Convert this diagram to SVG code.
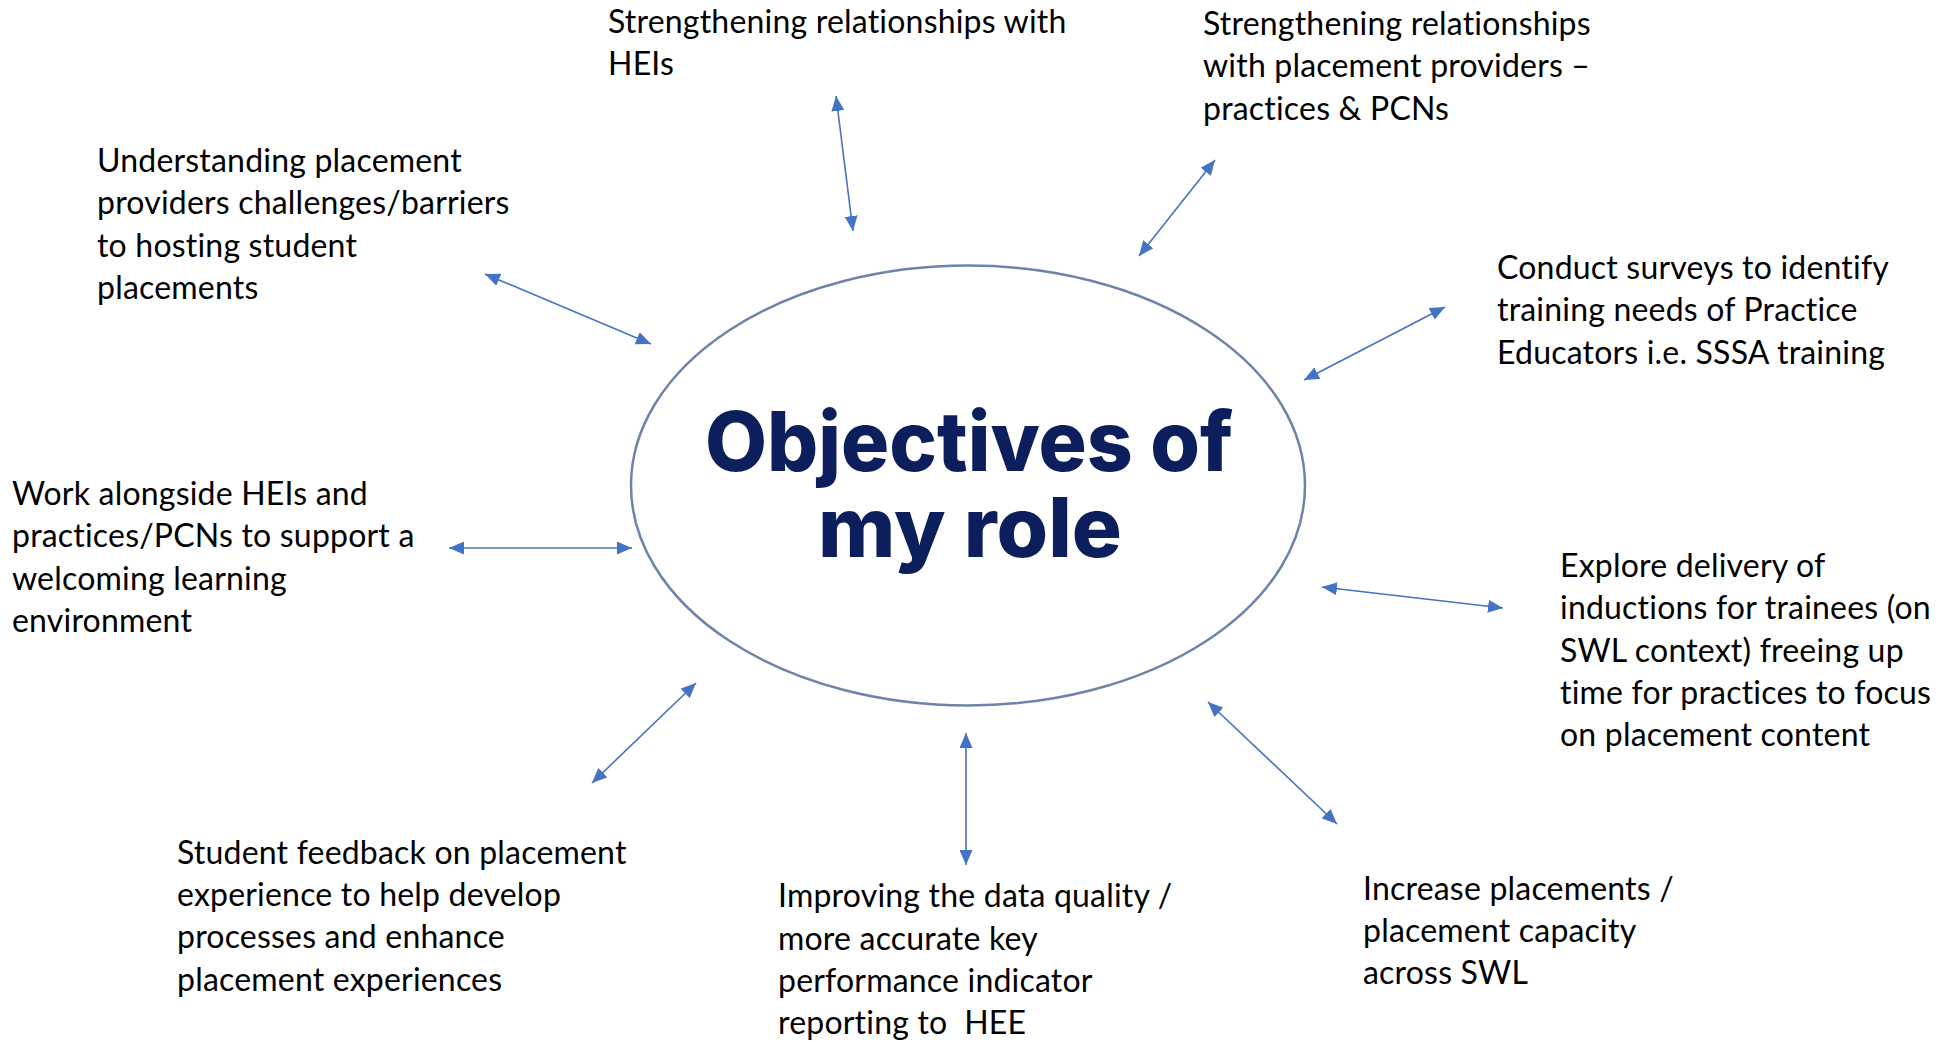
<svg xmlns="http://www.w3.org/2000/svg" width="1954" height="1042" viewBox="0 0 1954 1042">
<style>
.t{font-family:Lato,"Open Sans","Liberation Sans",sans-serif;font-size:32px;letter-spacing:0.2px;fill:#000}
.ttl{font-family:Inter,"Noto Sans","Liberation Sans",sans-serif;font-weight:800;font-size:83px;fill:#0c1f5c;text-anchor:middle}
.c{stroke:#4472c4;stroke-width:1.6;fill:none;marker-start:url(#ah);marker-end:url(#ah)}
</style>
<defs>
<marker id="ah" markerUnits="userSpaceOnUse" markerWidth="15" markerHeight="13" refX="15" refY="6.5" orient="auto-start-reverse">
<path d="M0,0 L15,6.5 L0,13 z" fill="#4472c4"/>
</marker>
</defs>
<rect width="1954" height="1042" fill="#fff"/>
<g id="center">
<ellipse cx="968" cy="485.5" rx="337" ry="220" fill="#fff" stroke="#6d83a8" stroke-width="2.5"/>
<text class="ttl" x="969" y="471" textLength="528" lengthAdjust="spacingAndGlyphs">Objectives of</text>
<text class="ttl" x="970" y="557" textLength="304" lengthAdjust="spacingAndGlyphs">my role</text>
</g>
<g id="connectors">
<line class="c" x1="836" y1="96" x2="853" y2="231"/>
<line class="c" x1="1215" y1="160" x2="1139" y2="256"/>
<line class="c" x1="485" y1="274" x2="651" y2="344"/>
<line class="c" x1="1445" y1="307" x2="1304" y2="380"/>
<line class="c" x1="449" y1="548" x2="632" y2="548"/>
<line class="c" x1="1322" y1="587" x2="1503" y2="608"/>
<line class="c" x1="696" y1="683" x2="592" y2="783"/>
<line class="c" x1="966" y1="733" x2="966" y2="865"/>
<line class="c" x1="1208" y1="702" x2="1337" y2="824"/>
</g>
<g id="n-heis">
<text class="t" x="608" y="33">Strengthening relationships with</text>
<text class="t" x="608" y="75">HEIs</text>
</g>
<g id="n-providers">
<text class="t" x="1203" y="35">Strengthening relationships</text>
<text class="t" x="1203" y="77">with placement providers –</text>
<text class="t" x="1203" y="120">practices &amp; PCNs</text>
</g>
<g id="n-understanding">
<text class="t" x="97" y="172">Understanding placement</text>
<text class="t" x="97" y="214">providers challenges/barriers</text>
<text class="t" x="97" y="257">to hosting student</text>
<text class="t" x="97" y="299">placements</text>
</g>
<g id="n-surveys">
<text class="t" x="1497" y="279">Conduct surveys to identify</text>
<text class="t" x="1497" y="321">training needs of Practice</text>
<text class="t" x="1497" y="364">Educators i.e. SSSA training</text>
</g>
<g id="n-work">
<text class="t" x="12" y="505">Work alongside HEIs and</text>
<text class="t" x="12" y="547">practices/PCNs to support a</text>
<text class="t" x="12" y="590">welcoming learning</text>
<text class="t" x="12" y="632">environment</text>
</g>
<g id="n-explore">
<text class="t" x="1560" y="577">Explore delivery of</text>
<text class="t" x="1560" y="619">inductions for trainees (on</text>
<text class="t" x="1560" y="662">SWL context) freeing up</text>
<text class="t" x="1560" y="704">time for practices to focus</text>
<text class="t" x="1560" y="746">on placement content</text>
</g>
<g id="n-feedback">
<text class="t" x="177" y="864">Student feedback on placement</text>
<text class="t" x="177" y="906">experience to help develop</text>
<text class="t" x="177" y="948">processes and enhance</text>
<text class="t" x="177" y="991">placement experiences</text>
</g>
<g id="n-data">
<text class="t" x="778" y="907">Improving the data quality /</text>
<text class="t" x="778" y="950">more accurate key</text>
<text class="t" x="778" y="992">performance indicator</text>
<text class="t" x="778" y="1034" xml:space="preserve">reporting to  HEE</text>
</g>
<g id="n-increase">
<text class="t" x="1363" y="900">Increase placements /</text>
<text class="t" x="1363" y="942">placement capacity</text>
<text class="t" x="1363" y="984">across SWL</text>
</g>
</svg>
